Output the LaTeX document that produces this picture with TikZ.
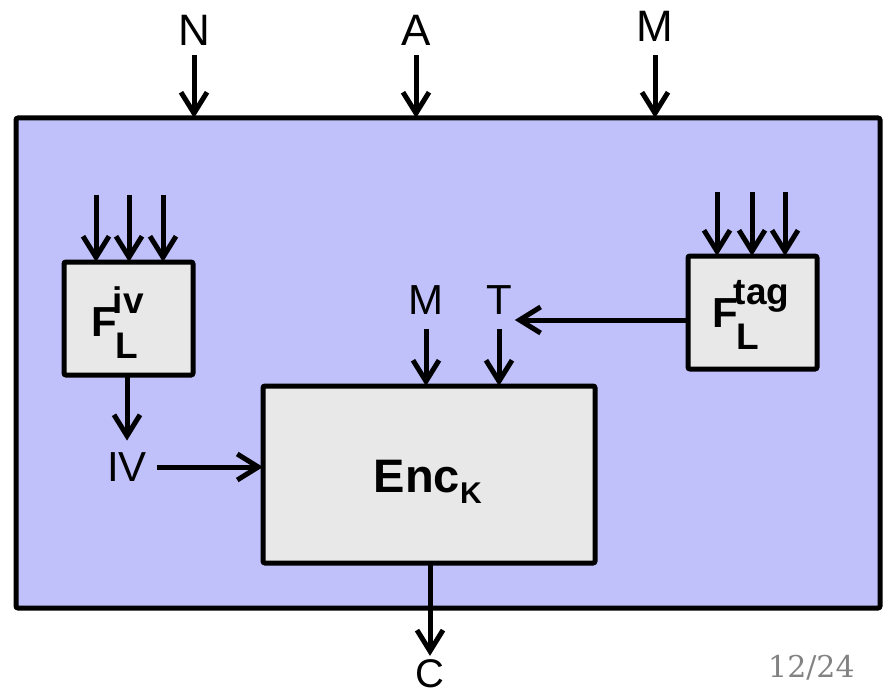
\documentclass[tikz,border=0pt]{standalone}
\usepackage{fontspec}
\setmainfont{Liberation Sans}
\newfontfamily\pagefont{DejaVu Serif}
\usetikzlibrary{arrows.meta,calc}
\definecolor{bgblue}{RGB}{192,192,250}
\definecolor{boxgray}{RGB}{232,232,232}
\definecolor{pagegray}{RGB}{130,130,130}
\newcommand\FLlabel[1]{\fontsize{42}{42}\selectfont\bfseries F\hspace{-4pt}\fontsize{37}{37}\selectfont\rlap{\raisebox{23pt}{#1}}\hspace{2.7pt}\raisebox{-22pt}{L}}
\begin{document}
\begin{tikzpicture}[x=1pt,y=-1pt,
  arr/.style={line width=5pt,-{Straight Barb[length=21pt,width=26pt]}},
  blockbox/.style={draw,line width=5pt,fill=boxgray,rounded corners=2pt,inner sep=0pt,outer sep=0pt},
  lbl/.style={inner sep=0pt,outer sep=0pt,font=\fontsize{42}{42}\selectfont},
  biglbl/.style={inner sep=0pt,outer sep=0pt,font=\fontsize{44}{44}\selectfont}]
\useasboundingbox (0,0) rectangle (883,695);
% outer box
\node[draw,line width=5pt,fill=bgblue,rounded corners=2pt,inner sep=0pt,outer sep=0pt,
  minimum width=864pt,minimum height=490pt] (outer) at (448,363) {};
% inner blocks
\node[blockbox,minimum width=129pt,minimum height=113pt] (fiv) at (128.5,318.5) {};
\node[blockbox,minimum width=129pt,minimum height=113pt] (ftag) at (752.5,312.5) {};
\node[blockbox,minimum width=332pt,minimum height=177pt] (enc) at (429,474.5) {};
% block labels
\node[anchor=base west,inner sep=0pt] (fivtxt) at (91,336) {\FLlabel{iv}};
\node[anchor=base west,inner sep=0pt] (ftagtxt) at (712,327) {\FLlabel{tag}};
\node[anchor=base west,inner sep=0pt] (enctxt) at (373.6,492)
  {\fontsize{47}{47}\selectfont\bfseries Enc\raisebox{-11pt}{\fontsize{30}{30}\selectfont K}};
% top inputs
\node[biglbl] (N) at (194,30) {N};
\node[biglbl] (A) at (416,30) {A};
\node[biglbl] (Mt) at (655,26) {M};
\draw[arr,shorten <=10pt] (N.south) -- (N.south |- outer.north);
\draw[arr,shorten <=10pt] (A.south) -- (A.south |- outer.north);
\draw[arr,shorten <=14pt] (Mt.south) -- (Mt.south |- outer.north);
% inputs of F^iv
\coordinate (iv1) at (96,195);
\coordinate (iv2) at (129,195);
\coordinate (iv3) at (163,195);
\draw[arr] (iv1) -- (iv1 |- fiv.north);
\draw[arr] (iv2) -- (iv2 |- fiv.north);
\draw[arr] (iv3) -- (iv3 |- fiv.north);
% inputs of F^tag
\coordinate (tg1) at (717,192);
\coordinate (tg2) at (752,192);
\coordinate (tg3) at (785,192);
\draw[arr] (tg1) -- (tg1 |- ftag.north);
\draw[arr] (tg2) -- (tg2 |- ftag.north);
\draw[arr] (tg3) -- (tg3 |- ftag.north);
% inner labels
\node[lbl] (Mi) at (426,300) {M};
\node[lbl] (T) at (499,300) {T};
\node[lbl] (IV) at (127,467) {IV};
\node[font=\fontsize{40}{40}\selectfont,inner sep=0pt,outer sep=0pt] (C) at (430,674) {C};
\draw[arr,shorten <=15pt] (Mi.south) -- (Mi.south |- enc.north);
\draw[arr,shorten <=15pt] (T.south) -- (T.south |- enc.north);
\draw[arr] ($(ftag.west)+(0,7.5)$) -- ($(T.east)+(3,20)$);
\draw[arr,shorten >=12pt] (IV |- fiv.south) -- (IV.north);
\draw[arr,shorten <=10pt] (IV.east) -- (enc.west |- IV.east);
\draw[arr,shorten >=4pt] (C |- enc.south) -- (C.north);
% page number
\node[anchor=base west,inner sep=0pt,text=pagegray,font=\pagefont\fontsize{30}{30}\selectfont] (page) at (768,677) {12/24};
\end{tikzpicture}
\end{document}
